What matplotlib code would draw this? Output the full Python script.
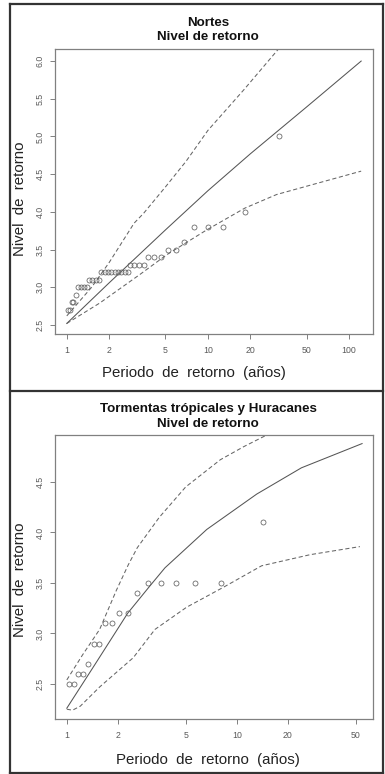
import matplotlib
matplotlib.use("Agg")
import matplotlib.pyplot as plt
from matplotlib.lines import Line2D
from matplotlib.ticker import FixedLocator, FixedFormatter, NullLocator

plt.rcParams['font.family'] = ['Liberation Sans', 'DejaVu Sans']

# ---------------- Data: Nortes ----------------
nortes_pts_x = [1.02, 1.05, 1.08, 1.10, 1.16, 1.20, 1.27, 1.32, 1.38, 1.44, 1.51, 1.60, 1.68,
                1.76, 1.86, 1.96, 2.07, 2.19, 2.31, 2.44, 2.58, 2.72, 2.80, 3.00, 3.24, 3.52,
                3.77, 4.14, 4.62, 5.18, 5.90, 6.75, 7.95, 10.0, 12.8, 18.3, 32.0]
nortes_pts_y = [2.7, 2.7, 2.8, 2.8, 2.9, 3.0, 3.0, 3.0, 3.0, 3.1, 3.1, 3.1, 3.1,
                3.2, 3.2, 3.2, 3.2, 3.2, 3.2, 3.2, 3.2, 3.2, 3.3, 3.3, 3.3, 3.3,
                3.4, 3.4, 3.4, 3.5, 3.5, 3.6, 3.8, 3.8, 3.8, 4.0, 5.0]
nortes_rl_x = [1.0, 2, 5, 10, 20, 50, 122]
nortes_rl_y = [2.52, 3.06, 3.76, 4.28, 4.77, 5.39, 6.0]
nortes_up_x = [1.0, 1.5, 2, 3, 3.5, 5, 7, 10, 18, 33]
nortes_up_y = [2.62, 3.0, 3.33, 3.85, 3.98, 4.33, 4.67, 5.08, 5.62, 6.2]
nortes_lo_x = [1.0, 1.71, 3.3, 5.1, 9.8, 18.3, 30.7, 122]
nortes_lo_y = [2.52, 2.79, 3.17, 3.43, 3.76, 4.05, 4.23, 4.54]
nortes_xticks = [1, 2, 5, 10, 20, 50, 100]
nortes_xticklabels = ["1", "2", "5", "10", "20", "50", "100"]
nortes_yticks = [2.5, 3.0, 3.5, 4.0, 4.5, 5.0, 5.5, 6.0]
nortes_yticklabels = ["2.5", "3.0", "3.5", "4.0", "4.5", "5.0", "5.5", "6.0"]

# ---------------- Data: Tormentas ----------------
torm_pts_x = [1.03, 1.095, 1.16, 1.25, 1.34, 1.45, 1.55, 1.68, 1.84, 2.02, 2.28, 2.59,
              3.02, 3.56, 4.40, 5.69, 8.06, 14.2]
torm_pts_y = [2.5, 2.5, 2.6, 2.6, 2.7, 2.9, 2.9, 3.1, 3.1, 3.2, 3.2, 3.4,
              3.5, 3.5, 3.5, 3.5, 3.5, 4.1]
torm_rl_x = [1.0, 1.46, 2.28, 3.08, 3.78, 6.66, 13.1, 24, 54.6]
torm_rl_y = [2.26, 2.69, 3.2, 3.47, 3.65, 4.03, 4.38, 4.64, 4.88]
torm_up_x = [1.0, 1.24, 1.56, 1.96, 2.3, 2.6, 3.5, 5.0, 8.0, 11, 16.5]
torm_up_y = [2.54, 2.79, 3.04, 3.43, 3.68, 3.85, 4.15, 4.45, 4.72, 4.85, 5.0]
torm_lo_x = [1.0, 1.08, 1.2, 1.56, 2.46, 3.3, 5.07, 8.4, 14, 27, 53]
torm_lo_y = [2.25, 2.24, 2.28, 2.47, 2.76, 3.04, 3.26, 3.46, 3.67, 3.78, 3.86]
torm_xticks = [1, 2, 5, 10, 20, 50]
torm_xticklabels = ["1", "2", "5", "10", "20", "50"]
torm_yticks = [2.5, 3.0, 3.5, 4.0, 4.5]
torm_yticklabels = ["2.5", "3.0", "3.5", "4.0", "4.5"]

W, H = 385, 774
fig = plt.figure(figsize=(W / 100, H / 100), dpi=100)
fig.patch.set_facecolor('white')


def fx(px):
    return px / W


def fy(py):
    return 1 - py / H


def make_axes(top, bottom):
    return fig.add_axes([fx(55), fy(bottom), fx(373) - fx(55), fy(top) - fy(bottom)])


def style(ax, xlim, ylim, xt, xtl, yt, ytl):
    ax.set_xscale('log')
    ax.set_xlim(*xlim)
    ax.set_ylim(*ylim)
    ax.xaxis.set_major_locator(FixedLocator(xt))
    ax.xaxis.set_major_formatter(FixedFormatter(xtl))
    ax.xaxis.set_minor_locator(NullLocator())
    ax.yaxis.set_major_locator(FixedLocator(yt))
    ax.yaxis.set_major_formatter(FixedFormatter(ytl))
    ax.yaxis.set_minor_locator(NullLocator())
    for s in ax.spines.values():
        s.set_color('#808080')
        s.set_linewidth(0.9)
    ax.tick_params(axis='both', direction='out', length=3.6, width=0.7, color='#808080',
                   labelsize=6.3, labelcolor='#5a5a5a')
    ax.tick_params(axis='x', pad=5)
    ax.tick_params(axis='y', pad=4)
    for lab in ax.get_yticklabels():
        lab.set_rotation(90)
        lab.set_va('center')


def draw(ax, px, py, rx, ry, ux, uy, lx, ly):
    ax.plot(rx, ry, color='#555555', lw=0.75)
    ax.plot(ux, uy, color='#666666', lw=0.75, dashes=(4, 2.5))
    ax.plot(lx, ly, color='#666666', lw=0.75, dashes=(4, 2.5))
    ax.plot(px, py, linestyle='none', marker='o', markersize=3.6, markerfacecolor='none',
            markeredgecolor='#606060', markeredgewidth=0.55)


ax1 = make_axes(49, 334)
draw(ax1, nortes_pts_x, nortes_pts_y, nortes_rl_x, nortes_rl_y,
     nortes_up_x, nortes_up_y, nortes_lo_x, nortes_lo_y)
style(ax1, (0.825, 148), (2.38, 6.16), nortes_xticks, nortes_xticklabels,
      nortes_yticks, nortes_yticklabels)

ax2 = make_axes(435, 719)
draw(ax2, torm_pts_x, torm_pts_y, torm_rl_x, torm_rl_y,
     torm_up_x, torm_up_y, torm_lo_x, torm_lo_y)
style(ax2, (0.852, 63.3), (2.153, 4.965), torm_xticks, torm_xticklabels,
      torm_yticks, torm_yticklabels)

# Titles
tkw = dict(ha='center', va='center', fontsize=9.6, fontweight='bold', color='#111111')
fig.text(fx(208), fy(23), "Nortes", **tkw)
fig.text(fx(208), fy(36.5), "Nivel de retorno", **tkw)
fig.text(fx(208), fy(409), "Tormentas trópicales y Huracanes", **tkw)
fig.text(fx(208), fy(423.5), "Nivel de retorno", **tkw)

# Axis labels
lkw = dict(ha='center', va='center', fontsize=10.8, color='#222222')
fig.text(fx(193.5), fy(373), "Periodo  de  retorno  (años)", **lkw)
fig.text(fx(208), fy(760), "Periodo  de  retorno  (años)", **lkw)
fig.text(fx(20), fy(198.5), "Nivel  de  retorno", rotation=90, **lkw)
fig.text(fx(20), fy(579.5), "Nivel  de  retorno", rotation=90, **lkw)

# Outer frame and divider
fkw = dict(color='#333333', linewidth=1.6, transform=fig.transFigure)
fig.add_artist(Line2D([fx(10), fx(383)], [fy(4), fy(4)], **fkw))
fig.add_artist(Line2D([fx(10), fx(383)], [fy(772.5), fy(772.5)], **fkw))
fig.add_artist(Line2D([fx(10), fx(10)], [fy(4), fy(772.5)], **fkw))
fig.add_artist(Line2D([fx(383), fx(383)], [fy(4), fy(772.5)], **fkw))
fig.add_artist(Line2D([fx(10), fx(383)], [fy(390.5), fy(390.5)], **fkw))

fig.savefig("out.png", dpi=100, facecolor='white')
